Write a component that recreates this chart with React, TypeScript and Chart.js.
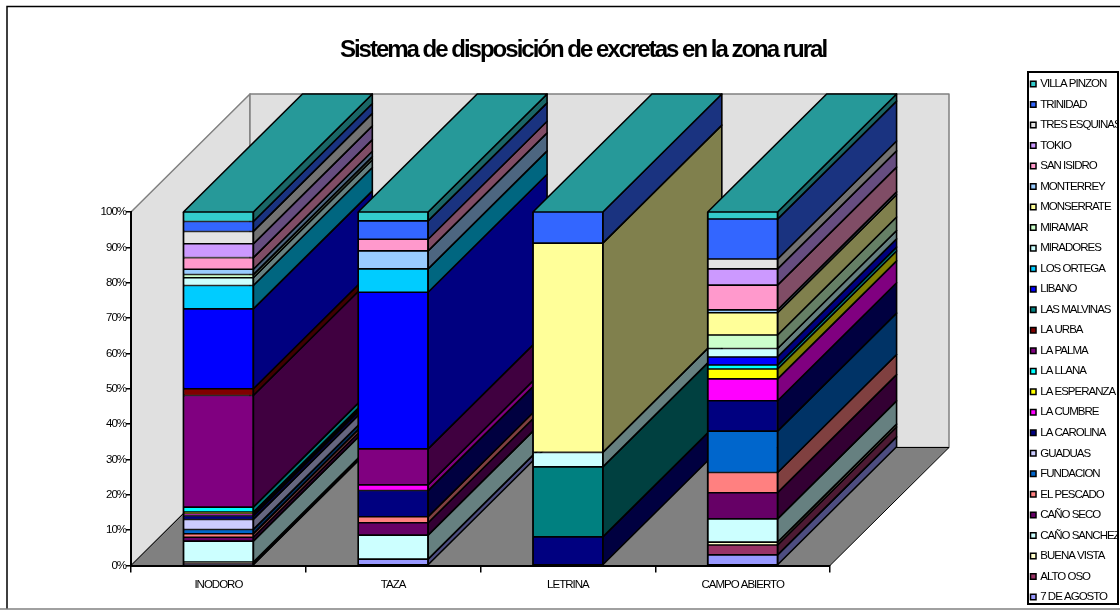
import React, { useEffect, useRef } from "react";
import { Chart, registerables } from "chart.js";

Chart.register(...registerables);

const categories = ["INODORO", "TAZA", "LETRINA", "CAMPO ABIERTO"];
const titleText = "Sistema de disposición de excretas en la zona rural";

// Series values, bottom of the stack first (percent of each column)
const agosto7 = [0.3, 1.8, 0, 3.0];
const altoOso = [0.3, 0, 0, 2.8];
const buenaVista = [0.4, 0, 0, 0.8];
const canoSanchez = [5.9, 6.8, 0, 6.6];
const canoSeco = [1.1, 3.5, 0, 7.4];
const elPescado = [1.0, 1.7, 0, 5.7];
const fundacion = [1.2, 0, 0, 11.7];
const guaduas = [2.8, 0, 0, 0];
const laCarolina = [1.1, 7.4, 8.1, 8.6];
const laCumbre = [0.5, 1.6, 0, 6.2];
const laEsperanza = [0.5, 0, 0, 2.8];
const laLlana = [1.4, 0, 0, 1.1];
const laPalma = [31.6, 10.2, 0, 0];
const laUrba = [1.9, 0, 0, 0];
const lasMalvinas = [0, 0, 19.8, 0];
const libano = [22.6, 44.3, 0, 2.3];
const losOrtega = [6.6, 6.6, 0, 0];
const miradores = [2.2, 0, 4.1, 2.4];
const miramar = [0.9, 0, 0, 3.8];
const monserrate = [0, 0, 59.2, 6.3];
const monterrey = [1.5, 5.1, 0, 0.8];
const sanIsidro = [3.3, 3.3, 0, 7.0];
const tokio = [3.9, 0, 0, 4.6];
const tresEsquinas = [3.5, 0, 0, 2.8];
const trinidad = [2.8, 5.2, 8.8, 11.3];
const villaPinzon = [2.7, 2.5, 0, 2.0];

const seriesNames = [
  "7 DE AGOSTO", "ALTO OSO", "BUENA VISTA", "CAÑO SANCHEZ", "CAÑO SECO", "EL PESCADO",
  "FUNDACION", "GUADUAS", "LA CAROLINA", "LA CUMBRE", "LA ESPERANZA", "LA LLANA",
  "LA PALMA", "LA URBA", "LAS MALVINAS", "LIBANO", "LOS ORTEGA", "MIRADORES",
  "MIRAMAR", "MONSERRATE", "MONTERREY", "SAN ISIDRO", "TOKIO", "TRES ESQUINAS",
  "TRINIDAD", "VILLA PINZON",
];
const seriesValues = [
  agosto7, altoOso, buenaVista, canoSanchez, canoSeco, elPescado,
  fundacion, guaduas, laCarolina, laCumbre, laEsperanza, laLlana,
  laPalma, laUrba, lasMalvinas, libano, losOrtega, miradores,
  miramar, monserrate, monterrey, sanIsidro, tokio, tresEsquinas,
  trinidad, villaPinzon,
];
const seriesColors = [
  "#9999ff", "#993366", "#ffffcc", "#ccffff", "#660066", "#ff8080",
  "#0066cc", "#ccccff", "#000080", "#ff00ff", "#ffff00", "#00ffff",
  "#800080", "#800000", "#008080", "#0000ff", "#00ccff", "#ccffff",
  "#ccffcc", "#ffff99", "#99ccff", "#ff99cc", "#cc99ff", "#e3e3e3",
  "#3366ff", "#33cccc",
];

const DEPTH_X = 119;
const DEPTH_Y = 118;
const TEXT_SPACING = "-1px";
const TITLE_SPACING = "-2px";

function shade(hex: string, f: number) {
  const n = parseInt(hex.slice(1), 16);
  const r = Math.round(((n >> 16) & 255) * f);
  const g = Math.round(((n >> 8) & 255) * f);
  const b = Math.round((n & 255) * f);
  return `rgb(${r},${g},${b})`;
}

function poly(ctx: CanvasRenderingContext2D, pts: number[][], fill: string, stroke: string, lw: number) {
  ctx.beginPath();
  pts.forEach((p, i) => (i ? ctx.lineTo(p[0], p[1]) : ctx.moveTo(p[0], p[1])));
  ctx.closePath();
  ctx.fillStyle = fill;
  ctx.fill();
  ctx.strokeStyle = stroke;
  ctx.lineWidth = lw;
  ctx.lineJoin = "round";
  ctx.stroke();
}

const depthPlugin = {
  id: "depth3d",
  beforeLayout(chart: any) {
    if (chart.$wrapped) return;
    chart.$wrapped = true;
    const legend = chart.legend;
    const title = chart.titleBlock;
    const legendUpdate = legend.update;
    legend.update = function (w: number, _h: number, m: any) {
      legendUpdate.call(this, w, 700, m);
    };
    const legendFit = legend.fit;
    legend.fit = function () {
      legendFit.call(this);
      this.width = 0;
    };
    const titleUpdate = title.update;
    title.update = function (w: number, h: number) {
      titleUpdate.call(this, w, h);
      this.height = 0;
    };
    const titleDraw = title.draw;
    title.draw = function () {
      chart.ctx.letterSpacing = TITLE_SPACING;
      titleDraw.call(this);
      chart.ctx.letterSpacing = TEXT_SPACING;
    };
  },
  afterLayout(chart: any) {
    const legend = chart.legend;
    legend.left = 1023;
    legend.right = 1118;
    legend.top = 69.2;
    legend.bottom = 660;
    legend.width = 95;
    legend.height = 590;
    const title = chart.titleBlock;
    title.left = 283;
    title.right = 883;
    title.top = 36;
    title.bottom = 62;
    title.width = 600;
    title.height = 26;
  },
  beforeDraw(chart: any) {
    const { ctx, chartArea: a } = chart;
    ctx.letterSpacing = TEXT_SPACING;
    const dx = DEPTH_X;
    const dy = DEPTH_Y;
    ctx.save();
    // outer frame
    ctx.strokeStyle = "#000";
    ctx.lineWidth = 1.5;
    ctx.beginPath();
    ctx.moveTo(7, 609);
    ctx.lineTo(7, 6.5);
    ctx.lineTo(1120, 6.5);
    ctx.stroke();
    ctx.strokeStyle = "#808080";
    ctx.beginPath();
    ctx.moveTo(0, 609);
    ctx.lineTo(1120, 609);
    ctx.stroke();
    // legend frame
    ctx.strokeStyle = "#000";
    ctx.lineWidth = 2;
    ctx.strokeRect(1028, 72, 90, 532);
    // walls and floor
    poly(ctx, [[a.left, a.bottom], [a.left, a.top], [a.left + dx, a.top - dy], [a.left + dx, a.bottom - dy]], "#e0e0e0", "#808080", 1.5);
    poly(ctx, [[a.left + dx, a.top - dy], [a.right + dx, a.top - dy], [a.right + dx, a.bottom - dy], [a.left + dx, a.bottom - dy]], "#e0e0e0", "#808080", 1.5);
    poly(ctx, [[a.left, a.bottom], [a.right, a.bottom], [a.right + dx, a.bottom - dy], [a.left + dx, a.bottom - dy]], "#808080", "#000", 1);
    ctx.restore();
  },
  beforeDatasetsDraw(chart: any) {
    const { ctx } = chart;
    const dx = DEPTH_X;
    const dy = DEPTH_Y;
    const n = chart.data.datasets.length;
    ctx.save();
    for (let c = 0; c < chart.data.labels.length; c++) {
      for (let s = 0; s < n; s++) {
        const bar = chart.getDatasetMeta(s).data[c];
        const val = chart.data.datasets[s].data[c];
        if (!val) continue;
        const xr = bar.x + bar.width / 2;
        poly(ctx, [[xr, bar.base], [xr, bar.y], [xr + dx, bar.y - dy], [xr + dx, bar.base - dy]], shade(seriesColors[s], 0.5), "#000", 1.6);
      }
      const last = chart.getDatasetMeta(n - 1).data[c];
      const l = last.x - last.width / 2;
      const r = last.x + last.width / 2;
      const yTop = chart.scales.y.getPixelForValue(100);
      poly(ctx, [[l, yTop], [r, yTop], [r + dx, yTop - dy], [l + dx, yTop - dy]], shade(seriesColors[n - 1], 0.75), "#000", 1.6);
    }
    ctx.restore();
  },
  afterDatasetsDraw(chart: any) {
    const { ctx, scales } = chart;
    const n = chart.data.datasets.length;
    ctx.save();
    ctx.strokeStyle = "#000";
    ctx.lineWidth = 1.6;
    const yTop = scales.y.getPixelForValue(100);
    const yBase = scales.y.getPixelForValue(0);
    for (let c = 0; c < chart.data.labels.length; c++) {
      const bar = chart.getDatasetMeta(n - 1).data[c];
      const l = bar.x - bar.width / 2;
      const r = bar.x + bar.width / 2;
      ctx.beginPath();
      ctx.moveTo(l, yBase);
      ctx.lineTo(l, yTop);
      ctx.moveTo(r, yBase);
      ctx.lineTo(r, yTop);
      ctx.stroke();
    }
    ctx.restore();
  },
};

export default function App() {
  const ref = useRef<HTMLCanvasElement>(null);
  useEffect(() => {
    document.body.style.margin = "0";
    const canvas = ref.current!;
    const font = { family: "'Liberation Sans', Arial, sans-serif", size: 11.5 };
    const chart = new Chart(canvas, {
      type: "bar",
      data: {
        labels: categories,
        datasets: seriesNames.map((name, i) => ({
          label: name,
          data: seriesValues[i],
          backgroundColor: seriesColors[i],
          borderColor: "#000",
          borderWidth: 1.0,
          borderSkipped: false,
          inflateAmount: 0.2,
          categoryPercentage: 1,
          barPercentage: 0.4,
        })),
      },
      options: {
        responsive: false,
        animation: false,
        layout: { padding: { left: 81, right: 290, top: 212, bottom: 0 } },
        plugins: {
          tooltip: { enabled: false },
          title: {
            display: true,
            text: titleText,
            color: "#000",
            font: { family: font.family, size: 24, weight: "bold" },
            padding: 0,
          },
          legend: {
            display: true,
            position: "right",
            align: "start",
            reverse: true,
            onClick: () => {},
            labels: {
              color: "#000",
              font,
              usePointStyle: true,
              pointStyle: "rect",
              boxWidth: 2.5,
              boxHeight: 5.5,
              padding: 9.02,
              generateLabels(c: any) {
                return c.data.datasets.map((d: any, i: number) => ({
                  text: d.label,
                  fillStyle: d.backgroundColor,
                  strokeStyle: "#000",
                  lineWidth: 1.5,
                  pointStyle: "rect",
                  datasetIndex: i,
                  hidden: false,
                  fontColor: "#000",
                }));
              },
            },
          },
        },
        scales: {
          x: {
            stacked: true,
            afterFit: (s: any) => { s.height = 44.5; },
            grid: { drawOnChartArea: false, drawTicks: true, tickLength: 7, color: "#000", lineWidth: 1.5, offset: true },
            border: { color: "#000", width: 2 },
            ticks: { color: "#000", font, padding: 5, maxRotation: 0, autoSkip: false },
          },
          y: {
            stacked: true,
            min: 0,
            max: 100,
            afterFit: (s: any) => { s.width = 50; },
            grid: { drawOnChartArea: false, drawTicks: true, tickLength: 5, color: "#000", lineWidth: 1.5 },
            border: { color: "#000", width: 2 },
            ticks: { color: "#000", font, padding: 0, stepSize: 10, callback: (v: any) => `${v}%` },
          },
        },
      },
      plugins: [depthPlugin],
    } as any);
    return () => chart.destroy();
  }, []);
  return <canvas ref={ref} width={1120} height={610} style={{ display: "block" }} />;
}
